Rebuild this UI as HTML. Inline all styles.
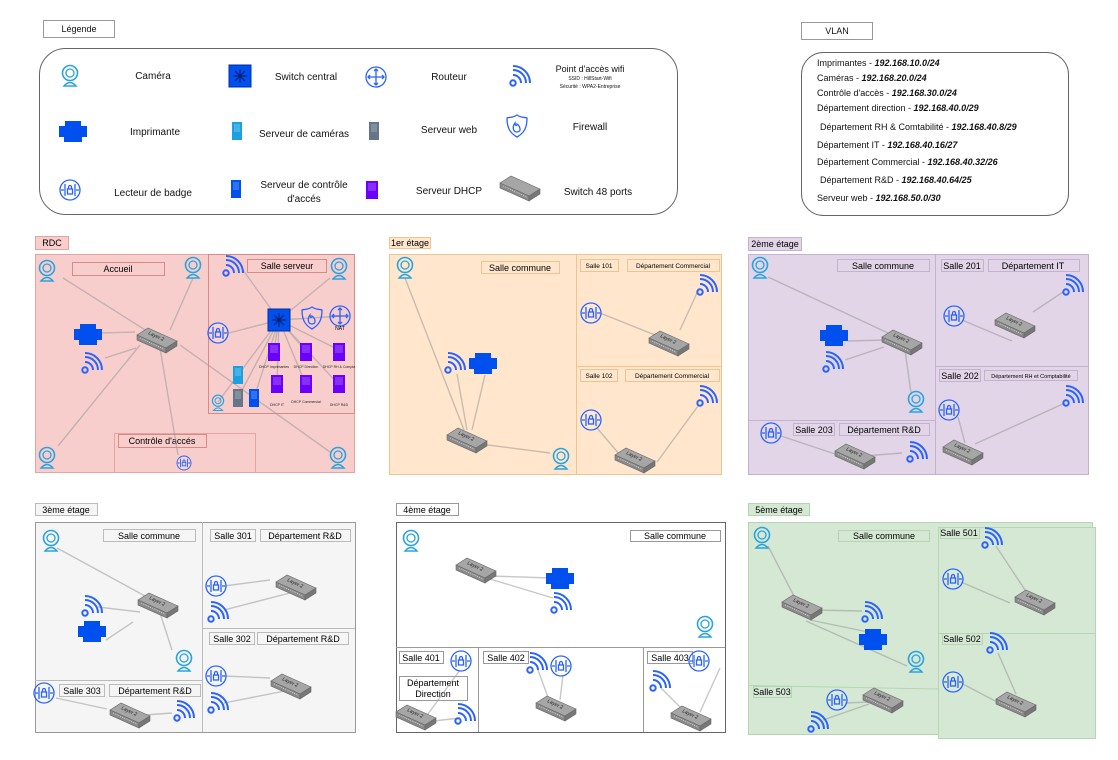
<!DOCTYPE html>
<html><head><meta charset="utf-8"><style>
html,body{margin:0;padding:0;background:#fff;}
svg{display:block;font-family:"Liberation Sans",sans-serif;}
</style></head><body>
<svg width="1118" height="760" viewBox="0 0 1118 760" xmlns="http://www.w3.org/2000/svg">
<defs>
<g id="cam"><circle cx="0" cy="-3" r="7.5" fill="none" stroke="#29a3e0" stroke-width="1.6"/><circle cx="0" cy="-3" r="4" fill="none" stroke="#29a3e0" stroke-width="1.3"/><path d="M-6,10 Q0,3 6,10 Z" fill="none" stroke="#29a3e0" stroke-width="1.4"/></g>
<g id="wifi" fill="none" stroke="#2962ff" stroke-width="2"><circle cx="-7" cy="7" r="2.7"/><path d="M-7,-1 A8,8 0 0 1 1,7"/><path d="M-7,-6 A13,13 0 0 1 6,7"/><path d="M-7,-10 A17,17 0 0 1 10,7"/></g>
<g id="prn" fill="#0050ef"><rect x="-14" y="-5" width="28" height="11"/><rect x="-8" y="-10" width="16" height="6"/><rect x="-9" y="4" width="18" height="7"/></g>
<g id="badge" fill="none" stroke="#2962ff" stroke-width="1.3"><circle r="10" fill="#fff" fill-opacity="0.15"/><path d="M-5,-6V6M5,-6V6M-9,0h3M9,0h-3"/><rect x="-2.5" y="-1" width="5" height="5"/><path d="M-1.5,-1v-2a1.5,1.5 0 0 1 3,0v2"/></g>
<g id="sw"><path d="M-20,-3 L-9,-10 L20,3 L9,10 Z" fill="#a6a6a6" stroke="#666" stroke-width="0.6"/><path d="M-20,-3 L9,10 L9,15 L-20,2 Z" fill="#8a8a8a" stroke="#666" stroke-width="0.6"/><path d="M9,10 L20,3 L20,8 L9,15 Z" fill="#777" stroke="#666" stroke-width="0.6"/><path d="M-17,0 L7,11" stroke="#ddd" stroke-width="0.8" stroke-dasharray="1,1"/></g>
<g id="srv"><rect x="-5" y="-9" width="10" height="18"/><path d="M-3,-6h6M-3,-4h6M-3,-2h6M-3,0h6" stroke="#fff" stroke-opacity="0.5" stroke-width="0.7"/></g>
<g id="dhcp"><rect x="-6" y="-9" width="12" height="18" fill="#6a00ff"/><path d="M-4,-6h8M-4,-4h8M-4,-2h8M-4,0h8" stroke="#fff" stroke-opacity="0.5" stroke-width="0.7"/></g>
<g id="csw"><rect x="-11" y="-11" width="22" height="22" fill="#0050ef" stroke="#0030a0"/><path d="M-7,0h14M0,-7v14M-5,-5l10,10M5,-5l-10,10" stroke="#001a66" stroke-width="1"/></g>
<g id="rtr" fill="none" stroke="#2962ff" stroke-width="1.3"><circle r="10"/><path d="M-8,0h16M0,-8v16M-6,-2l-2,2 2,2M6,-2l2,2-2,2M-2,-6l2,-2 2,2M-2,6l2,2 2,-2"/></g>
<g id="fw" fill="none" stroke="#2962ff" stroke-width="1.3"><path d="M0,-11 C4,-8 8,-9 10,-8 C10,2 7,7 0,11 C-7,7 -10,2 -10,-8 C-8,-9 -4,-8 0,-11Z"/><path d="M0,6 C-4,6 -5,1 -2,-3 C-2,0 0,0 0,-2 C3,0 5,6 0,6Z"/></g>
</defs>
<style>
.lb{font-size:9px;text-anchor:middle;fill:#000}
.lg{font-size:10px;text-anchor:middle;fill:#111}
.ln{stroke:#999;stroke-opacity:0.55;stroke-width:1.4;fill:none}
.l2{font-size:5px;font-style:italic;fill:#222}
</style>

<!-- Legend -->
<rect x="43.5" y="20.5" width="71" height="17" fill="#fff" stroke="#999"/>
<text x="79" y="32" class="lg" style="font-size:9px">Légende</text>
<rect x="39.5" y="48.5" width="638" height="166" rx="26" fill="#fff" stroke="#666"/>
<use href="#cam" x="70" y="76"/><text x="153" y="79" class="lg">Caméra</text>
<use href="#csw" x="240" y="76"/><text x="306" y="80" class="lg">Switch central</text>
<use href="#rtr" x="376" y="77"/><text x="449" y="80" class="lg">Routeur</text>
<use href="#wifi" x="520" y="76"/><text x="590" y="72" class="lg" style="font-size:9px">Point d'accès wifi</text>
<text x="590" y="80" class="lg" style="font-size:5px">SSID : HillStart-Wifi</text>
<text x="590" y="88" class="lg" style="font-size:5px">Sécurité : WPA2-Entreprise</text>
<use href="#prn" x="73" y="131"/><text x="155" y="135" class="lg">Imprimante</text>
<use href="#srv" x="237" y="131" fill="#1ba1e2"/><text x="304" y="137" class="lg">Serveur de caméras</text>
<use href="#srv" x="374" y="131" fill="#647687"/><text x="449" y="133" class="lg">Serveur web</text>
<use href="#fw" x="517" y="126"/><text x="590" y="130" class="lg">Firewall</text>
<use href="#badge" x="70" y="190"/><text x="153" y="196" class="lg">Lecteur de badge</text>
<use href="#srv" x="236" y="189" fill="#0050ef"/><text x="304" y="188" class="lg">Serveur de contrôle</text><text x="304" y="202" class="lg">d'accés</text>
<use href="#srv" x="372" y="190"/><use href="#dhcp" x="372" y="190"/><text x="449" y="194" class="lg">Serveur DHCP</text>
<use href="#sw" x="520" y="186"/><text x="598" y="195" class="lg">Switch 48 ports</text>

<!-- VLAN -->
<rect x="801.5" y="22.5" width="71" height="17" fill="#fff" stroke="#999"/>
<text x="837" y="34" class="lg" style="font-size:9px">VLAN</text>
<rect x="801.5" y="52.5" width="267" height="163" rx="22" fill="#fff" stroke="#666"/>
<g style="font-size:9px" fill="#111">
<text x="817" y="66">Imprimantes - <tspan font-weight="bold" font-style="italic">192.168.10.0/24</tspan></text>
<text x="817" y="81">Caméras - <tspan font-weight="bold" font-style="italic">192.168.20.0/24</tspan></text>
<text x="817" y="96">Contrôle d'accès - <tspan font-weight="bold" font-style="italic">192.168.30.0/24</tspan></text>
<text x="817" y="111">Département direction - <tspan font-weight="bold" font-style="italic">192.168.40.0/29</tspan></text>
<text x="820" y="130">Département RH &amp; Comtabilité - <tspan font-weight="bold" font-style="italic">192.168.40.8/29</tspan></text>
<text x="817" y="148">Département IT - <tspan font-weight="bold" font-style="italic">192.168.40.16/27</tspan></text>
<text x="817" y="165">Département Commercial - <tspan font-weight="bold" font-style="italic">192.168.40.32/26</tspan></text>
<text x="820" y="183">Département R&amp;D - <tspan font-weight="bold" font-style="italic">192.168.40.64/25</tspan></text>
<text x="817" y="201">Serveur web - <tspan font-weight="bold" font-style="italic">192.168.50.0/30</tspan></text>
</g>

<!-- RDC -->
<rect x="35.5" y="236.5" width="33" height="13" fill="#f8cecc" stroke="#e6a3a0"/><text x="52" y="246" class="lb">RDC</text>
<rect x="35.5" y="254.5" width="319" height="218" fill="#f8cecc" stroke="#e6a3a0"/>
<rect x="208.5" y="254.5" width="146" height="159" fill="none" stroke="#d88a88"/>
<rect x="114.5" y="433.5" width="141" height="39" fill="none" stroke="#e6a3a0"/>
<rect x="72.5" y="262.5" width="92" height="13" fill="none" stroke="#d88a88"/><text x="118" y="272" class="lb">Accueil</text>
<rect x="247.5" y="259.5" width="79" height="13" fill="none" stroke="#d88a88"/><text x="287" y="269" class="lb">Salle serveur</text>
<rect x="118.5" y="434.5" width="88" height="13" fill="none" stroke="#d88a88"/><text x="162" y="444" class="lb">Contrôle d'accés</text>
<g class="ln">
<path d="M63,278L150,333M193,278L170,330M101,333L135,332M105,358L136,348M58,446L140,345M160,348L178,455M180,345L330,452"/>
<path d="M243,270L279,320M330,278L279,320M229,333L279,320M279,320L312,318M312,318L340,316M279,320L339,350M279,320L274,350M279,320L305,350M279,320L277,385M279,320L306,385M279,320L339,385M279,320L238,375M279,320L238,398M279,320L254,398M279,320L218,402"/>
</g>
<use href="#cam" x="47" y="271"/><use href="#cam" x="193" y="268"/><use href="#cam" x="339" y="269"/>
<use href="#cam" x="47" y="458"/><use href="#cam" x="338" y="458"/>
<use href="#prn" x="88" y="334"/><use href="#wifi" x="92" y="363"/>
<use href="#sw" x="157" y="338"/><text class="l2" transform="translate(148,334) rotate(25)">Layer 2</text>
<use href="#wifi" x="233" y="266"/><use href="#csw" x="279" y="320"/><use href="#fw" x="312" y="318"/><use href="#rtr" x="340" y="316"/>
<text x="340" y="330" class="lb" style="font-size:5px">NAT</text>
<use href="#badge" x="218" y="333"/>
<use href="#dhcp" x="274" y="352"/><use href="#dhcp" x="306" y="352"/><use href="#dhcp" x="339" y="352"/>
<use href="#dhcp" x="277" y="384"/><use href="#dhcp" x="306" y="384"/><use href="#dhcp" x="339" y="384"/>
<g style="font-size:3.5px" text-anchor="middle" fill="#222"><text x="274" y="368">DHCP Imprimantes</text><text x="306" y="368">DHCP Direction</text><text x="339" y="368">DHCP RH &amp; Compta</text><text x="277" y="406">DHCP IT</text><text x="306" y="403">DHCP Commercial</text><text x="339" y="406">DHCP R&amp;D</text></g>
<use href="#srv" x="238" y="375" fill="#1ba1e2"/><use href="#srv" x="238" y="398" fill="#647687"/><use href="#srv" x="254" y="398" fill="#0050ef"/>
<use href="#cam" x="218" y="403" transform="translate(218,403) scale(0.75) translate(-218,-403)"/>
<use href="#badge" x="184" y="463" transform="translate(184,463) scale(0.7) translate(-184,-463)"/>

<!-- 1er -->
<rect x="389.5" y="237.5" width="41" height="11" fill="#ffe6cc" stroke="#f0c48c"/><text x="410" y="246" class="lb">1er étage</text>
<rect x="389.5" y="254.5" width="332" height="220" fill="#ffe6cc" stroke="#f0c48c"/>
<path d="M576.5,254V474M576,366.5H721" stroke="#f0c48c" fill="none"/>
<rect x="481.5" y="261.5" width="78" height="12" fill="none" stroke="#f0c48c"/><text x="520" y="271" class="lb">Salle commune</text>
<rect x="580.5" y="259.5" width="38" height="12" fill="none" stroke="#f0c48c"/><text x="599" y="268" class="lb" style="font-size:6.5px">Salle 101</text>
<rect x="627.5" y="259.5" width="92" height="12" fill="none" stroke="#f0c48c"/><text x="673" y="268" class="lb" style="font-size:6.5px">Département Commercial</text>
<rect x="580.5" y="369.5" width="37" height="12" fill="none" stroke="#f0c48c"/><text x="599" y="378" class="lb" style="font-size:6.5px">Salle 102</text>
<rect x="625.5" y="369.5" width="94" height="12" fill="none" stroke="#f0c48c"/><text x="672" y="378" class="lb" style="font-size:6.5px">Département Commercial</text>
<g class="ln"><path d="M405,278L464,430M457,374L467,430M485,375L472,430M480,444L550,453M600,313L660,337M697,293L680,330M597,428L620,455M698,406L657,462"/></g>
<use href="#cam" x="405" y="268"/><use href="#wifi" x="455" y="363"/><use href="#prn" x="483" y="363"/>
<use href="#sw" x="467" y="438"/><text class="l2" transform="translate(458,434) rotate(25)">Layer 2</text>
<use href="#cam" x="561" y="459"/>
<use href="#wifi" x="707" y="285"/><use href="#badge" x="591" y="313"/>
<use href="#sw" x="669" y="341"/><text class="l2" transform="translate(660,337) rotate(25)">Layer 2</text>
<use href="#wifi" x="707" y="396"/><use href="#badge" x="591" y="420"/>
<use href="#sw" x="635" y="458"/><text class="l2" transform="translate(626,454) rotate(25)">Layer 2</text>

<!-- 2eme -->
<rect x="748.5" y="237.5" width="53" height="13" fill="#e1d5e7" stroke="#c3b2cf"/><text x="775" y="247" class="lb">2ème étage</text>
<rect x="748.5" y="254.5" width="340" height="220" fill="#e1d5e7" stroke="#c3b2cf"/>
<path d="M935.5,254V474M935,366.5H1088M748,420.5H935" stroke="#c3b2cf" fill="none"/>
<rect x="837.5" y="259.5" width="92" height="12" fill="none" stroke="#c3b2cf"/><text x="883" y="269" class="lb">Salle commune</text>
<rect x="941.5" y="259.5" width="42" height="12" fill="none" stroke="#c3b2cf"/><text x="962" y="269" class="lb">Salle 201</text>
<rect x="988.5" y="259.5" width="91" height="12" fill="none" stroke="#c3b2cf"/><text x="1033" y="269" class="lb">Département IT</text>
<rect x="939.5" y="369.5" width="41" height="12" fill="none" stroke="#c3b2cf"/><text x="960" y="379" class="lb">Salle 202</text>
<rect x="984.5" y="370.5" width="93" height="10" fill="none" stroke="#c3b2cf"/><text x="1031" y="378" class="lb" style="font-size:5.5px">Département RH et Comptabilité</text>
<rect x="793.5" y="423.5" width="41" height="12" fill="none" stroke="#c3b2cf"/><text x="814" y="433" class="lb">Salle 203</text>
<rect x="839.5" y="423.5" width="90" height="12" fill="none" stroke="#c3b2cf"/><text x="884" y="433" class="lb">Département R&amp;D</text>
<g class="ln"><path d="M768,277L888,333M848,341L885,340M845,360L884,347M905,350L911,393M962,320L1012,341M1063,292L1033,312M781,436L838,455M864,456L902,453M958,417L965,443M975,444L1065,403"/></g>
<use href="#cam" x="760" y="268"/><use href="#prn" x="834" y="335"/><use href="#wifi" x="833" y="362"/>
<use href="#sw" x="902" y="340"/><text class="l2" transform="translate(893,336) rotate(25)">Layer 2</text>
<use href="#cam" x="916" y="402"/>
<use href="#wifi" x="1073" y="285"/><use href="#badge" x="954" y="316"/>
<use href="#sw" x="1015" y="323"/><text class="l2" transform="translate(1006,319) rotate(25)">Layer 2</text>
<use href="#wifi" x="1073" y="396"/><use href="#badge" x="949" y="410"/>
<use href="#sw" x="963" y="450"/><text class="l2" transform="translate(954,446) rotate(25)">Layer 2</text>
<use href="#badge" x="771" y="433"/>
<use href="#sw" x="855" y="454"/><text class="l2" transform="translate(846,450) rotate(25)">Layer 2</text>
<use href="#wifi" x="917" y="452"/>

<!-- 3eme -->
<rect x="35.5" y="503.5" width="62" height="12" fill="#f5f5f5" stroke="#bbb"/><text x="66" y="513" class="lb">3ème étage</text>
<rect x="35.5" y="522.5" width="320" height="210" fill="#f5f5f5" stroke="#999"/>
<path d="M202.5,522V732M202,628.5H355M35,680.5H202" stroke="#bbb" fill="none"/>
<rect x="103.5" y="529.5" width="92" height="12" fill="none" stroke="#bbb"/><text x="149" y="539" class="lb">Salle commune</text>
<rect x="210.5" y="529.5" width="45" height="12" fill="none" stroke="#bbb"/><text x="233" y="539" class="lb">Salle 301</text>
<rect x="260.5" y="529.5" width="90" height="12" fill="none" stroke="#bbb"/><text x="305" y="539" class="lb">Département R&amp;D</text>
<rect x="209.5" y="632.5" width="45" height="12" fill="none" stroke="#bbb"/><text x="232" y="642" class="lb">Salle 302</text>
<rect x="257.5" y="632.5" width="91" height="12" fill="none" stroke="#bbb"/><text x="303" y="642" class="lb">Département R&amp;D</text>
<rect x="59.5" y="684.5" width="45" height="12" fill="none" stroke="#bbb"/><text x="82" y="694" class="lb">Salle 303</text>
<rect x="109.5" y="684.5" width="91" height="12" fill="none" stroke="#bbb"/><text x="155" y="694" class="lb">Département R&amp;D</text>
<g class="ln"><path d="M57,548L145,596M98,607L140,612M106,640L133,622M160,613L172,650M224,586L270,580M224,610L290,593M224,676L270,678M224,703L290,690M56,698L107,709M145,715L172,713"/></g>
<use href="#cam" x="51" y="541"/><use href="#wifi" x="92" y="606"/><use href="#prn" x="92" y="631"/>
<use href="#sw" x="158" y="603"/><text class="l2" transform="translate(149,599) rotate(25)">Layer 2</text>
<use href="#cam" x="184" y="661"/>
<use href="#badge" x="216" y="586"/><use href="#wifi" x="218" y="612"/>
<use href="#sw" x="296" y="585"/><text class="l2" transform="translate(287,581) rotate(25)">Layer 2</text>
<use href="#badge" x="216" y="676"/><use href="#wifi" x="218" y="703"/>
<use href="#sw" x="291" y="684"/><text class="l2" transform="translate(282,680) rotate(25)">Layer 2</text>
<use href="#badge" x="44" y="693"/>
<use href="#sw" x="130" y="713"/><text class="l2" transform="translate(121,709) rotate(25)">Layer 2</text>
<use href="#wifi" x="184" y="711"/>

<!-- 4eme -->
<rect x="396.5" y="503.5" width="62" height="12" fill="#fff" stroke="#999"/><text x="427" y="513" class="lb">4ème étage</text>
<rect x="396.5" y="522.5" width="329" height="210" fill="#fff" stroke="#666"/>
<path d="M396,647.5H725M478.5,647V732M643.5,647V732" stroke="#999" fill="none"/>
<rect x="630.5" y="530.5" width="90" height="11" fill="none" stroke="#999"/><text x="675" y="539" class="lb">Salle commune</text>
<rect x="399.5" y="651.5" width="44" height="12" fill="none" stroke="#999"/><text x="421" y="661" class="lb">Salle 401</text>
<rect x="399.5" y="676.5" width="68" height="24" fill="#fff" stroke="#999"/><text x="433" y="686" class="lb">Département</text><text x="433" y="697" class="lb">Direction</text>
<rect x="483.5" y="651.5" width="45" height="12" fill="none" stroke="#999"/><text x="506" y="661" class="lb">Salle 402</text>
<rect x="647.5" y="651.5" width="45" height="12" fill="none" stroke="#999"/><text x="670" y="661" class="lb">Salle 403</text>
<g class="ln"><path d="M490,576L550,578M490,579L553,598M460,670L425,718M425,722L460,718M538,670L549,700M563,675L560,700M660,687L685,712M720,668L700,712"/></g>
<use href="#cam" x="411" y="541"/>
<use href="#sw" x="476" y="568"/><text class="l2" transform="translate(467,564) rotate(25)">Layer 2</text>
<use href="#prn" x="560" y="578"/><use href="#wifi" x="561" y="603"/><use href="#cam" x="705" y="627"/>
<use href="#badge" x="461" y="661"/>
<use href="#sw" x="416" y="715"/><text class="l2" transform="translate(407,711) rotate(25)">Layer 2</text>
<use href="#wifi" x="465" y="714"/>
<use href="#wifi" x="537" y="663"/><use href="#badge" x="561" y="666"/>
<use href="#sw" x="556" y="706"/><text class="l2" transform="translate(547,702) rotate(25)">Layer 2</text>
<use href="#badge" x="699" y="661"/><use href="#wifi" x="660" y="681"/>
<use href="#sw" x="691" y="716"/><text class="l2" transform="translate(682,712) rotate(25)">Layer 2</text>

<!-- 5eme -->
<rect x="748.5" y="503.5" width="61" height="12" fill="#d5e8d4" stroke="#b6d5b3"/><text x="779" y="513" class="lb">5ème étage</text>
<rect x="748.5" y="522.5" width="344" height="212" fill="#d5e8d4" stroke="#b6d5b3"/>
<path d="M748,685.5L938,689" stroke="#b6d5b3" fill="none"/>
<rect x="938.5" y="527.5" width="157" height="211" fill="#d5e8d4" stroke="#b6d5b3"/>
<path d="M938,633.5H1095" stroke="#b6d5b3" fill="none"/>
<rect x="838.5" y="530.5" width="91" height="11" fill="none" stroke="#b6d5b3"/><text x="884" y="539" class="lb">Salle commune</text>
<rect x="940.5" y="527.5" width="39" height="11" fill="none" stroke="#b6d5b3"/><text x="959" y="536" class="lb">Salle 501</text>
<rect x="942.5" y="633.5" width="40" height="11" fill="none" stroke="#b6d5b3"/><text x="962" y="642" class="lb">Salle 502</text>
<rect x="753.5" y="686.5" width="38" height="11" fill="none" stroke="#b6d5b3"/><text x="772" y="695" class="lb">Salle 503</text>
<g class="ln"><path d="M768,546L795,598M812,610L862,611M810,620L868,632M806,621L907,666M961,582L1010,603M996,546L1027,593M961,683L997,702M998,653L1016,694M845,703L869,702M823,720L869,704"/></g>
<use href="#cam" x="762" y="538"/>
<use href="#sw" x="802" y="605"/><text class="l2" transform="translate(793,601) rotate(25)">Layer 2</text>
<use href="#wifi" x="872" y="612"/><use href="#prn" x="873" y="639"/><use href="#cam" x="916" y="662"/>
<use href="#wifi" x="992" y="538"/><use href="#badge" x="953" y="579"/>
<use href="#sw" x="1035" y="600"/><text class="l2" transform="translate(1026,596) rotate(25)">Layer 2</text>
<use href="#wifi" x="997" y="643"/><use href="#badge" x="953" y="682"/>
<use href="#sw" x="1016" y="702"/><text class="l2" transform="translate(1007,698) rotate(25)">Layer 2</text>
<use href="#badge" x="837" y="700"/>
<use href="#sw" x="883" y="698"/><text class="l2" transform="translate(874,694) rotate(25)">Layer 2</text>
<use href="#wifi" x="818" y="722"/>
</svg>
</body></html>
